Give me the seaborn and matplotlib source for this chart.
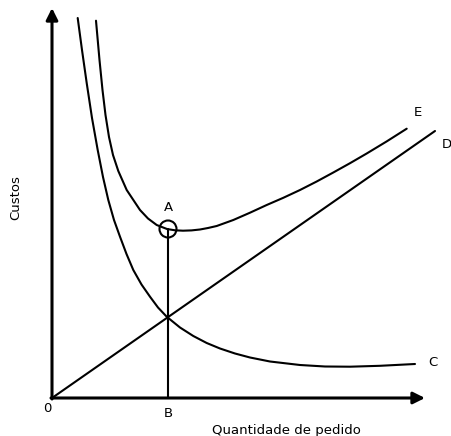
import matplotlib
matplotlib.use("Agg")
import matplotlib.pyplot as plt
import seaborn as sns

# curva C (custo de pedido)
c_x = [2.57, 3.00, 3.47, 4.00, 4.57, 5.10, 5.63, 6.20, 6.80, 7.45, 8.13, 8.95, 9.80,
       10.60, 11.47, 12.80, 14.13, 15.47, 16.80, 18.30, 19.80, 21.80, 24.80, 27.30,
       29.80, 32.80, 36.30]
c_y = [38.00, 34.80, 31.50, 28.00, 24.80, 22.10, 19.80, 17.80, 16.13, 14.40, 12.80,
       11.35, 10.13, 9.05, 8.13, 7.05, 6.20, 5.50, 4.95, 4.45, 4.05, 3.65, 3.30, 3.15,
       3.13, 3.22, 3.40]

# curva E (custo total)
e_x = [4.40, 4.75, 5.05, 5.35, 5.70, 6.10, 6.63, 7.47, 8.80, 9.60, 10.47, 11.50, 12.30,
       13.10, 13.95, 14.80, 15.60, 16.47, 18.13, 19.80, 21.47, 23.13, 24.80, 26.47,
       28.13, 29.80, 31.47, 33.47, 35.47]
e_y = [37.73, 33.80, 30.80, 28.30, 26.10, 24.30, 22.70, 20.80, 18.80, 17.95, 17.30,
       16.90, 16.77, 16.73, 16.76, 16.85, 17.00, 17.20, 17.80, 18.53, 19.30, 20.02,
       20.80, 21.65, 22.55, 23.48, 24.45, 25.66, 26.93]

# reta D (custo de manutencao)
d_x = [0.0, 38.3]
d_y = [0.0, 26.7]

# ponto otimo A e quantidade B
a_x, a_y = 11.6, 16.9

sns.set_style("white")
plt.rcParams['font.family'] = ['DejaVu Sans']
plt.rcParams['text.color'] = 'black'

fig = plt.figure(figsize=(4.52, 4.36), dpi=100)
ax = fig.add_axes([0, 0, 1, 1])
ax.set_xlim(-5.2, 40.0)
ax.set_ylim(-3.8, 39.8)
ax.axis('off')

lw = 1.5
for xs, ys in [(c_x, c_y), (e_x, e_y), (d_x, d_y), ([a_x, a_x], [0, a_y])]:
    sns.lineplot(x=xs, y=ys, sort=False, estimator=None, color='black', lw=lw,
                 solid_joinstyle='round', ax=ax)
ax.scatter([a_x], [a_y], s=150, facecolors='none', edgecolors='black', linewidths=1.5, zorder=5)

# eixos com setas
arrow = dict(arrowstyle='-|>,head_length=0.5,head_width=0.25', color='black', lw=2.2,
             mutation_scale=14, shrinkA=0, shrinkB=0)
ax.annotate('', xy=(37.3, 0), xytext=(-0.1, 0), arrowprops=arrow)
ax.annotate('', xy=(0, 39.0), xytext=(0, -0.1), arrowprops=arrow)

fs = 9.5
ax.text(-0.5, -1.0, '0', ha='center', va='center', fontsize=fs)
ax.text(a_x, -1.5, 'B', ha='center', va='center', fontsize=fs)
ax.text(a_x, a_y + 2.2, 'A', ha='center', va='center', fontsize=fs)
ax.text(36.6, 28.6, 'E', ha='center', va='center', fontsize=fs)
ax.text(39.5, 25.3, 'D', ha='center', va='center', fontsize=fs)
ax.text(38.1, 3.6, 'C', ha='center', va='center', fontsize=fs)
ax.text(23.4, -3.2, 'Quantidade de pedido', ha='center', va='center', fontsize=fs)
ax.text(-3.6, 20.0, 'Custos', ha='center', va='center', rotation=90, fontsize=fs)

fig.savefig('out.png', dpi=100)
